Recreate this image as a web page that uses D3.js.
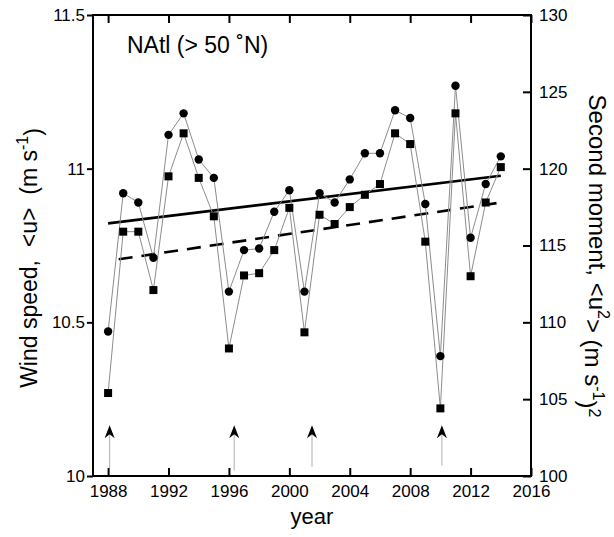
<!DOCTYPE html>
<html>
<head>
<meta charset="utf-8">
<script src="https://cdn.jsdelivr.net/npm/d3@7"></script>
<style>
  body { margin: 0; background: #fff; }
  text { font-family: Arial, "Liberation Sans", sans-serif; fill: #000; }
</style>
</head>
<body>
<div id="chart"></div>
<script>
// Data
const years = d3.range(1988, 2015);
const windSpeed = [10.47, 10.92, 10.89, 10.71, 11.11, 11.18, 11.03, 10.97, 10.60, 10.735, 10.74, 10.86, 10.93,
    10.60, 10.92, 10.89, 10.965, 11.05, 11.05, 11.19, 11.165, 10.885, 10.39, 11.27, 10.775, 10.95, 11.04];
const secondMoment = [105.4, 115.9, 115.9, 112.1, 119.5, 122.3, 119.4, 116.9, 108.3, 113.05, 113.2, 114.7, 117.45,
    109.35, 117.0, 116.4, 117.5, 118.3, 119.0, 122.3, 121.6, 115.25, 104.4, 123.6, 113.0, 117.8, 120.1];
// linear trends: [year, value]
const trendSpeed = [[1988, 10.822], [2014, 10.977]];
const trendMoment = [[1988.7, 114.1], [2014, 117.8]];
// event arrows: year, tip value and foot value (left axis units)
const arrowYears = [1988.1, 1996.35, 2001.5, 2010.1];
const arrowTip = 10.165;
const arrowFoot = [10.026, 10.018, 10.030, 10.034];
const xTicks = d3.range(1988, 2017, 4);
const leftTicks = [10, 10.5, 11, 11.5];
const rightTicks = d3.range(100, 131, 5);

const width = 614, height = 537;
const margin = { top: 15, right: 83, bottom: 61, left: 93 };

const svg = d3.select("#chart").append("svg")
    .attr("width", width)
    .attr("height", height);

const x = d3.scaleLinear().domain([1987, 2016]).range([margin.left, width - margin.right]);
const yL = d3.scaleLinear().domain([10, 11.5]).range([height - margin.bottom, margin.top]);
const yR = d3.scaleLinear().domain([100, 130]).range([height - margin.bottom, margin.top]);

// Axes
function styleAxis(g) {
    g.select(".domain").remove();
    g.selectAll(".tick line").attr("stroke", "#000").attr("stroke-width", 2);
    g.selectAll(".tick text").style("font-size", "17px").attr("font-family", null);
}

svg.append("g")
    .attr("transform", `translate(0,${height - margin.bottom})`)
    .call(d3.axisBottom(x).tickValues(xTicks).tickFormat(d3.format("d")).tickSize(-8).tickSizeOuter(0).tickPadding(9))
    .call(styleAxis);

svg.append("g")
    .attr("transform", `translate(0,${margin.top})`)
    .call(d3.axisTop(x).tickValues(xTicks).tickFormat("").tickSize(-8).tickSizeOuter(0))
    .call(styleAxis);

svg.append("g")
    .attr("transform", `translate(${margin.left},0)`)
    .call(d3.axisLeft(yL).tickValues(leftTicks).tickFormat(d3.format("~g")).tickSize(6).tickSizeOuter(0).tickPadding(2))
    .call(styleAxis);

svg.append("g")
    .attr("transform", `translate(${width - margin.right},0)`)
    .call(d3.axisRight(yR).tickValues(rightTicks).tickFormat(d3.format("d")).tickSize(-8).tickSizeOuter(0).tickPadding(8))
    .call(styleAxis);

// Frame
svg.append("rect")
    .attr("x", margin.left)
    .attr("y", margin.top)
    .attr("width", width - margin.left - margin.right)
    .attr("height", height - margin.top - margin.bottom)
    .attr("fill", "none")
    .attr("stroke", "#000")
    .attr("stroke-width", 2);

// Event arrows
svg.selectAll(".arrow-line")
    .data(arrowYears)
    .join("line")
    .attr("x1", d => x(d))
    .attr("x2", d => x(d))
    .attr("y1", yL(arrowTip) + 8)
    .attr("y2", (d, i) => yL(arrowFoot[i]))
    .attr("stroke", "#bdbdbd")
    .attr("stroke-width", 1.2);

svg.selectAll(".arrow-head")
    .data(arrowYears)
    .join("path")
    .attr("transform", d => `translate(${x(d)},${yL(arrowTip)})`)
    .attr("d", "M0,0 L5,13 L0,9 L-5,13 Z")
    .attr("fill", "#000");

// Trend lines
const lineL = d3.line().x(d => x(d[0])).y(d => yL(d[1]));
const lineR = d3.line().x(d => x(d[0])).y(d => yR(d[1]));

svg.append("path")
    .attr("d", lineL(trendSpeed))
    .attr("fill", "none")
    .attr("stroke", "#000")
    .attr("stroke-width", 2.6);

svg.append("path")
    .attr("d", lineR(trendMoment))
    .attr("fill", "none")
    .attr("stroke", "#000")
    .attr("stroke-width", 2.6)
    .attr("stroke-dasharray", "14,9");

// Series connecting lines
const speedPts = years.map((yr, i) => [yr, windSpeed[i]]);
const momentPts = years.map((yr, i) => [yr, secondMoment[i]]);

svg.append("path")
    .attr("d", lineL(speedPts))
    .attr("fill", "none")
    .attr("stroke", "#8c8c8c")
    .attr("stroke-width", 1);

svg.append("path")
    .attr("d", lineR(momentPts))
    .attr("fill", "none")
    .attr("stroke", "#8c8c8c")
    .attr("stroke-width", 1);

// Markers
svg.selectAll(".dot")
    .data(speedPts)
    .join("circle")
    .attr("cx", d => x(d[0]))
    .attr("cy", d => yL(d[1]))
    .attr("r", 4.2)
    .attr("fill", "#000");

svg.selectAll(".sq")
    .data(momentPts)
    .join("rect")
    .attr("x", d => x(d[0]) - 4)
    .attr("y", d => yR(d[1]) - 4)
    .attr("width", 8)
    .attr("height", 8)
    .attr("fill", "#000");

// Region label
svg.append("text")
    .attr("x", 127)
    .attr("y", 53)
    .style("font-size", "23px")
    .text("NAtl (> 50 ˚N)");

// Axis titles
svg.append("text")
    .attr("x", (margin.left + width - margin.right) / 2)
    .attr("y", 524)
    .attr("text-anchor", "middle")
    .style("font-size", "22px")
    .text("year");

const leftTitle = svg.append("text")
    .attr("transform", "translate(37,258) rotate(-90)")
    .attr("text-anchor", "middle")
    .style("font-size", "23px")
    .style("white-space", "pre");
leftTitle.append("tspan").text("Wind speed,  <u>  (m s");
leftTitle.append("tspan").attr("dy", "-0.55em").style("font-size", "16px").text("-1");
leftTitle.append("tspan").attr("dy", "0.55em").text(")");

const rightTitle = svg.append("text")
    .attr("transform", "translate(589,256) rotate(90)")
    .attr("text-anchor", "middle")
    .style("font-size", "24px");
rightTitle.append("tspan").text("Second moment, <u");
rightTitle.append("tspan").attr("dy", "-0.55em").style("font-size", "16px").text("2");
rightTitle.append("tspan").attr("dy", "0.55em").text("> (m s");
rightTitle.append("tspan").attr("dy", "-0.55em").style("font-size", "16px").text("-1");
rightTitle.append("tspan").attr("dy", "0.55em").text(")");
rightTitle.append("tspan").attr("dy", "-0.55em").style("font-size", "16px").text("2");
</script>
</body>
</html>
